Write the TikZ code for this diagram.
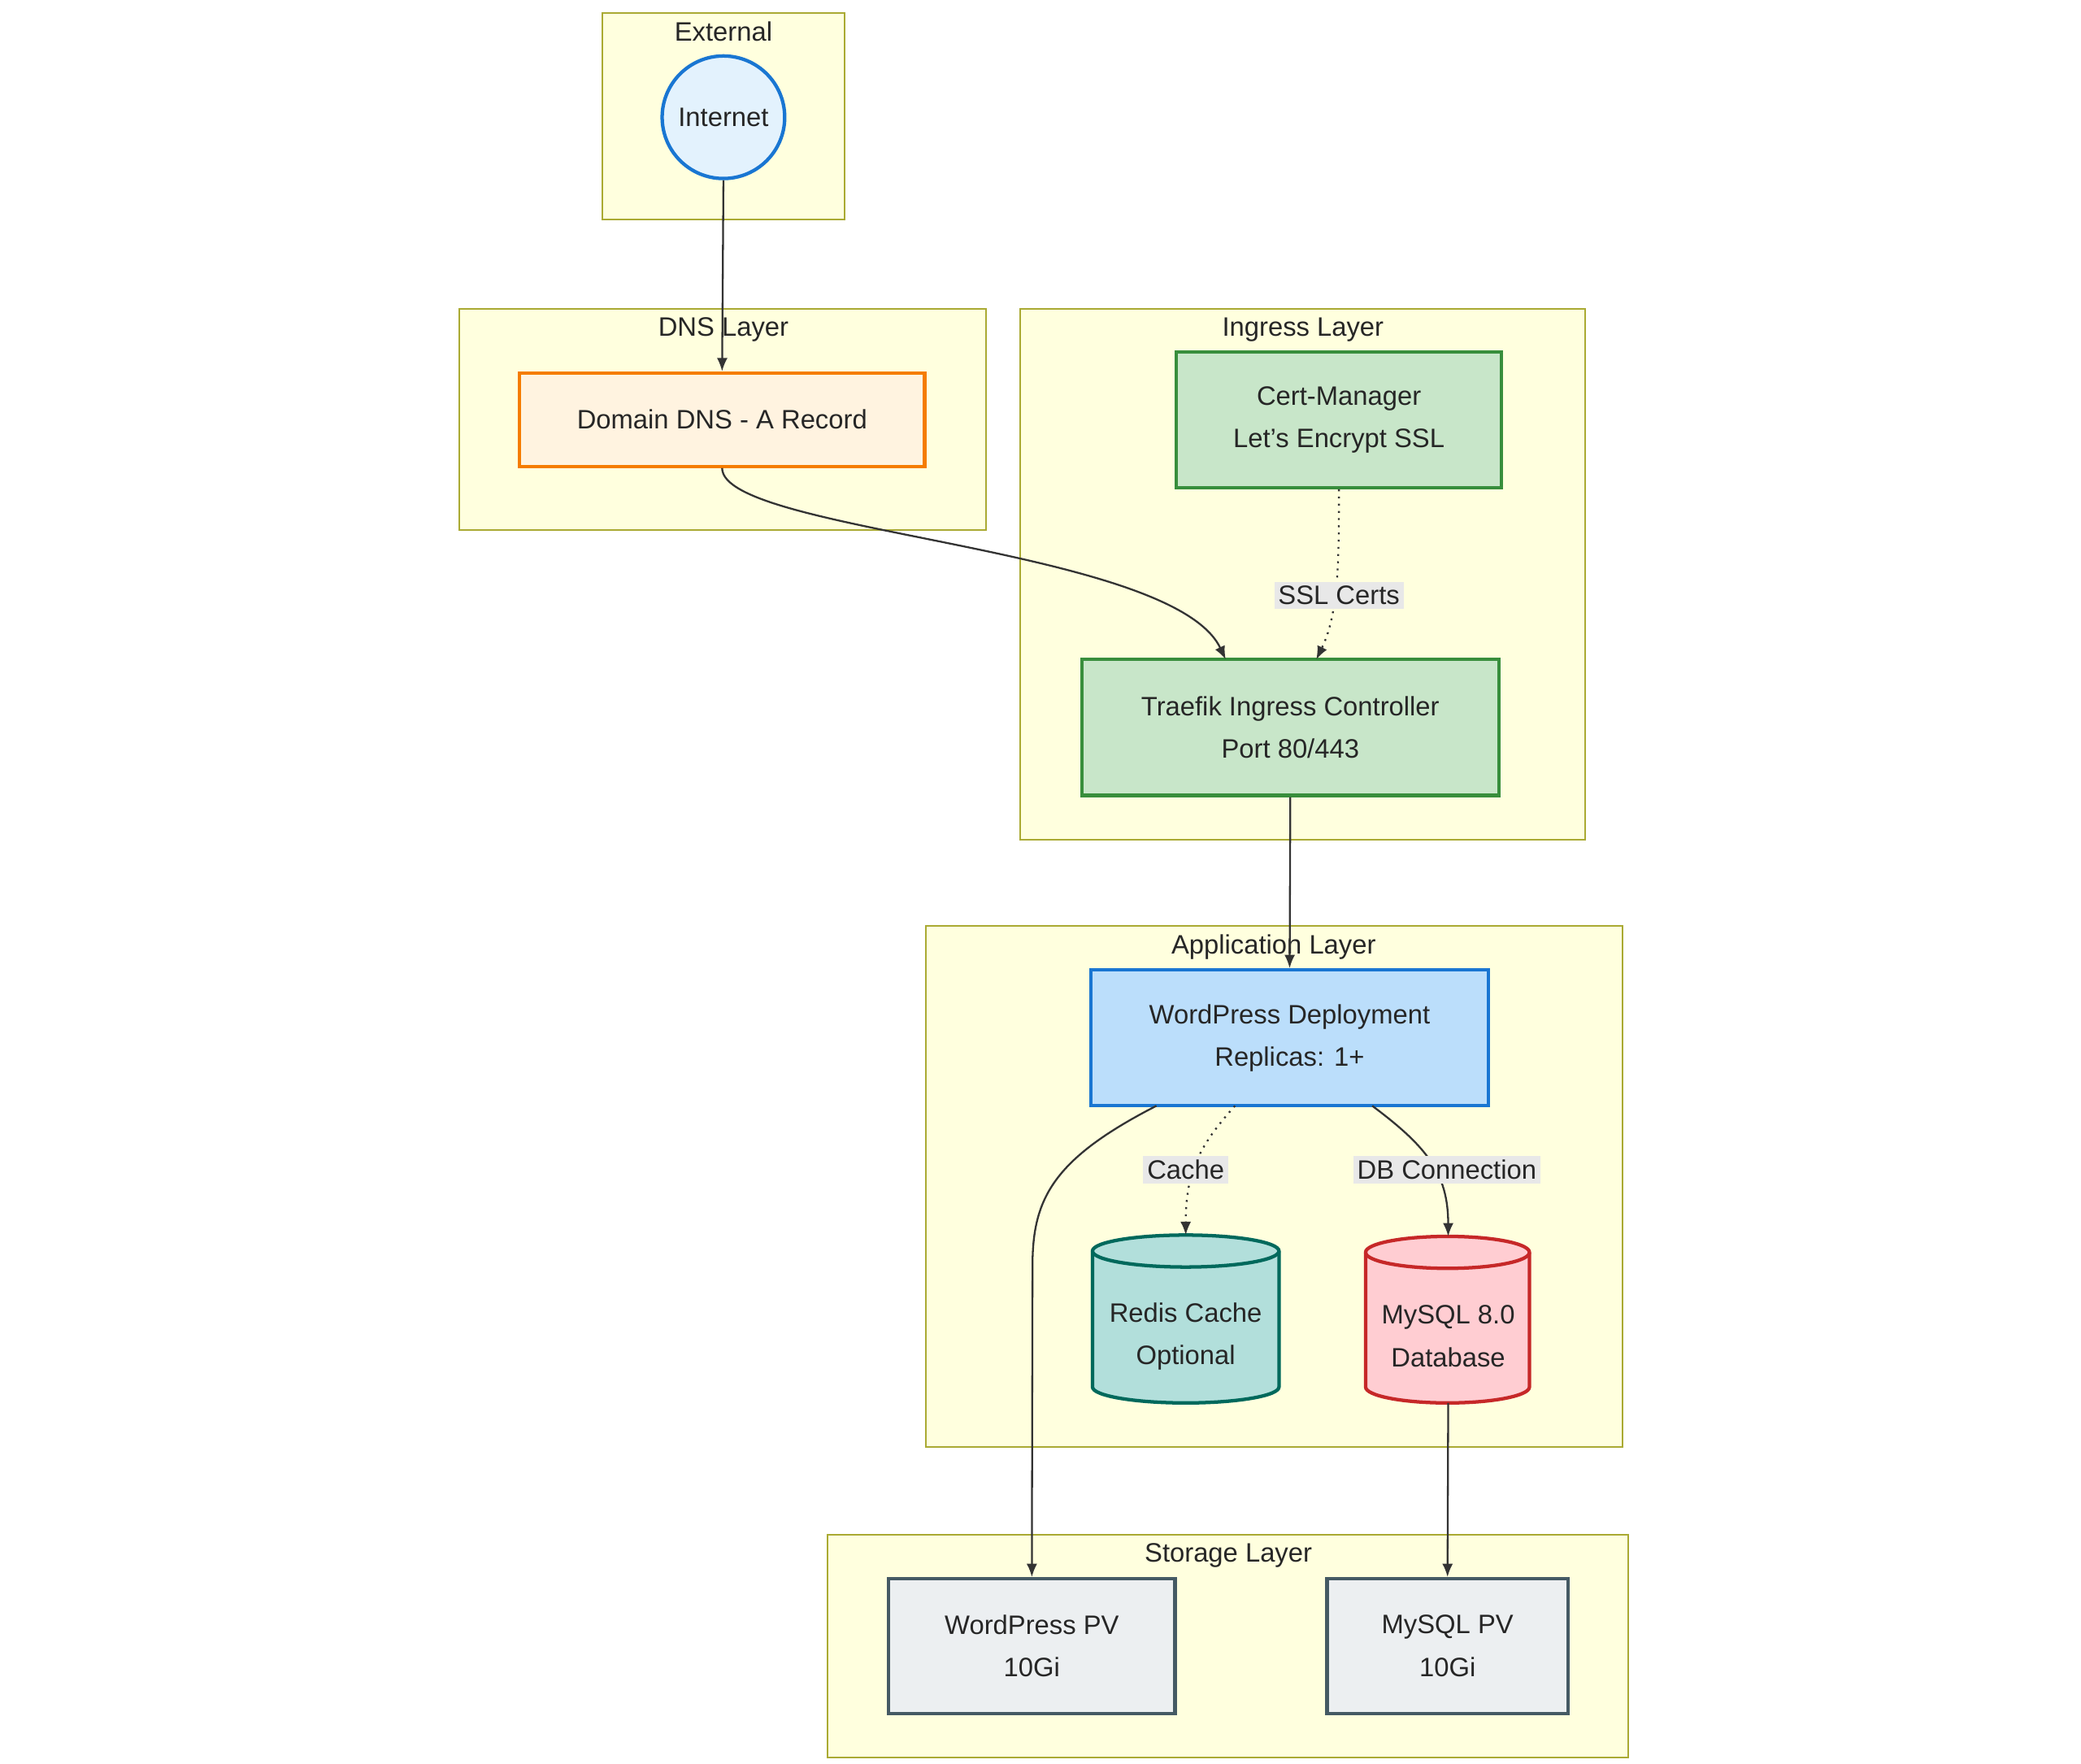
\documentclass[tikz,border=0pt]{standalone}
\usepackage{fontspec}
\setmainfont{Liberation Sans}
\usetikzlibrary{arrows.meta}
\definecolor{clfill}{HTML}{FFFFDE}
\definecolor{clline}{HTML}{AAAA33}
\definecolor{edge}{HTML}{333333}
\definecolor{lbl}{HTML}{E8E8E8}
\tikzset{
  x=0.5pt,y=-0.5pt,
  every node/.style={font=\fontsize{10pt}{16pt}\selectfont,text=black!85,align=center},
  cluster/.style={draw=clline,fill=clfill,line width=0.6pt},
  cltitle/.style={anchor=north,inner sep=2pt},
  box/.style={draw,line width=1.3pt,inner sep=0pt},
  conn/.style={draw=edge,line width=0.7pt,-{Latex[length=5pt,width=4pt]}},
  dot/.style={conn,dotted},
  elabel/.style={fill=lbl,inner sep=1.5pt},
}
\begin{document}
\begin{tikzpicture}
\useasboundingbox (0,0) rectangle (1562,1324);
% clusters
\draw[cluster] (452,10) rectangle (634,165); \node[cltitle] at (543,12) {External};
\draw[cluster] (345,232) rectangle (740,398); \node[cltitle] at (543,234) {DNS Layer};
\draw[cluster] (766,232) rectangle (1190,630); \node[cltitle] at (978,234) {Ingress Layer};
\draw[cluster] (695,695) rectangle (1218,1086); \node[cltitle] at (956,697) {Application Layer};
\draw[cluster] (621,1152) rectangle (1222,1319); \node[cltitle] at (922,1154) {Storage Layer};
% nodes
\node[circle,draw=blue!70!black,draw={rgb,255:red,25;green,118;blue,210},fill={rgb,255:red,227;green,242;blue,253},line width=1.3pt,minimum size=46pt,inner sep=0pt] (inet) at (543,88) {Internet};
\node[box,draw={rgb,255:red,245;green,124;blue,0},fill={rgb,255:red,255;green,243;blue,224},minimum width=152pt,minimum height=35pt] (dns) at (542,315) {Domain DNS - A Record};
\node[box,draw={rgb,255:red,56;green,142;blue,60},fill={rgb,255:red,200;green,230;blue,201},minimum width=122pt,minimum height=51pt] (cert) at (1005,315) {Cert-Manager\\Let's Encrypt SSL};
\node[box,draw={rgb,255:red,56;green,142;blue,60},fill={rgb,255:red,200;green,230;blue,201},minimum width=156.5pt,minimum height=51pt] (traefik) at (968.5,546) {Traefik Ingress Controller\\Port 80/443};
\node[box,draw={rgb,255:red,25;green,118;blue,210},fill={rgb,255:red,187;green,222;blue,251},minimum width=149pt,minimum height=51pt] (wp) at (968,779) {WordPress Deployment\\Replicas: 1+};
\node[box,draw={rgb,255:red,69;green,90;blue,100},fill={rgb,255:red,236;green,239;blue,241},minimum width=107.5pt,minimum height=50.5pt] (wppv) at (774.5,1235.5) {WordPress PV\\10Gi};
\node[box,draw={rgb,255:red,69;green,90;blue,100},fill={rgb,255:red,236;green,239;blue,241},minimum width=90.5pt,minimum height=50.5pt] (mypv) at (1086.5,1235.5) {MySQL PV\\10Gi};
% cylinders
\filldraw[line width=1.3pt,draw={rgb,255:red,0;green,105;blue,92},fill={rgb,255:red,178;green,223;blue,219}]
  (820,939) -- (820,1041) arc[start angle=180,end angle=360,x radius=35pt,y radius=6pt] -- (960,939) arc[start angle=0,end angle=180,x radius=35pt,y radius=6pt] -- cycle;
\draw[line width=1.3pt,draw={rgb,255:red,0;green,105;blue,92}] (820,939) arc[start angle=180,end angle=360,x radius=35pt,y radius=6pt];
\node (redis) at (890,1003) {Redis Cache\\Optional};
\coordinate (redistop) at (890,927);
\filldraw[line width=1.3pt,draw={rgb,255:red,198;green,40;blue,40},fill={rgb,255:red,255;green,205;blue,210}]
  (1025,940) -- (1025,1041) arc[start angle=180,end angle=360,x radius=30.75pt,y radius=6pt] -- (1148,940) arc[start angle=0,end angle=180,x radius=30.75pt,y radius=6pt] -- cycle;
\draw[line width=1.3pt,draw={rgb,255:red,198;green,40;blue,40}] (1025,940) arc[start angle=180,end angle=360,x radius=30.75pt,y radius=6pt];
\node (mysql) at (1087,1003) {MySQL 8.0\\Database};
\coordinate (mysqltop) at (1087,928);
\coordinate (mysqlbot) at (1087,1053);
% edges
\draw[conn] (inet.south) -- (dns.north);
\draw[conn] (dns.south) .. controls (542,400) and (880,410) .. (920,495);
\draw[dot] (cert.south) .. controls (1005,420) and (1005,460) .. (988,495);
\node[elabel] at (1005,447) {SSL Certs};
\draw[conn] (traefik.south) -- (wp.north);
\draw[conn] (868,830) .. controls (790,870) and (775,900) .. (775,950) -- (wppv.north);
\draw[dot] (927,830) .. controls (900,860) and (890,880) .. (redistop);
\node[elabel] at (890,878) {Cache};
\draw[conn] (1030,830) .. controls (1070,860) and (1087,880) .. (mysqltop);
\node[elabel] at (1086,878) {DB Connection};
\draw[conn] (mysqlbot) -- (mypv.north);
\end{tikzpicture}
\end{document}
